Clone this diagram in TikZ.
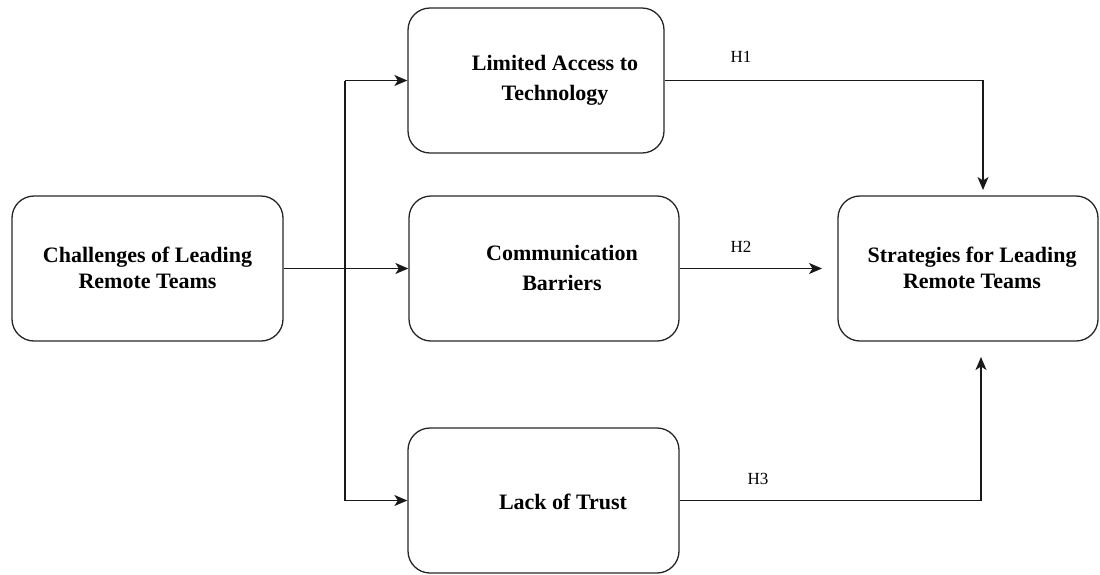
\documentclass[tikz,border=0pt]{standalone}
\usepackage{fontspec}
\setmainfont{Liberation Serif}
\usetikzlibrary{arrows.meta}
\begin{document}
\begin{tikzpicture}[x=1pt,y=-1pt,
  boxshape/.style={draw=black!85, line width=1.3pt, rounded corners=22pt, inner sep=0pt, minimum height=145pt},
  boxtext/.style={align=center, inner sep=0pt, font=\fontsize{22}{26}\selectfont\bfseries},
  boxtextwide/.style={align=center, inner sep=0pt, font=\fontsize{22}{30}\selectfont\bfseries},
  hlabel/.style={inner sep=0pt, font=\fontsize{17}{20}\selectfont},
  conn/.style={line width=1.3pt, draw=black!90},
  arr/.style={conn, -{Stealth[length=13pt,width=11pt,inset=3.5pt]}}]
\useasboundingbox (0,0) rectangle (1100,574);
% boxes
\node[boxshape, minimum width=271pt] (chal) at (147.5,268.5) {};
\node[boxshape, minimum width=256pt] (lim) at (536,80.5) {};
\node[boxshape, minimum width=270pt] (comm) at (544,268.5) {};
\node[boxshape, minimum width=271pt] (trust) at (543.5,500.5) {};
\node[boxshape, minimum width=260pt] (strat) at (968,268.5) {};
% texts
\node[boxtext] (chalT) at (147.5,268) {Challenges of Leading\\Remote Teams};
\node[boxtextwide] (limT) at (555,80) {Limited Access to\\Technology};
\node[boxtextwide] (commT) at (562,268) {Communication\\Barriers};
\node[boxtext] (trustT) at (563,502) {Lack of Trust};
\node[boxtext] (stratT) at (972,268) {Strategies for Leading\\Remote Teams};
% labels
\node[hlabel] (h1) at (741,57) {H1};
\node[hlabel] (h2) at (741,247) {H2};
\node[hlabel] (h3) at (758,479) {H3};
% connectors
\coordinate (jt) at (345,80.5);
\coordinate (jb) at (345,500.5);
\coordinate (h1end) at (983,190);
\coordinate (h2end) at (822,268.5);
\coordinate (h3end) at (981,357);
\draw[arr] (chal.east) -- (comm.west);
\draw[conn] (jt) -- (jb);
\draw[arr] (jt) -- (lim.west);
\draw[arr] (jb) -- (trust.west);
\draw[arr] (lim.east) -| (h1end);
\draw[arr] (comm.east) -- (h2end);
\draw[arr] (trust.east) -| (h3end);
\end{tikzpicture}
\end{document}
